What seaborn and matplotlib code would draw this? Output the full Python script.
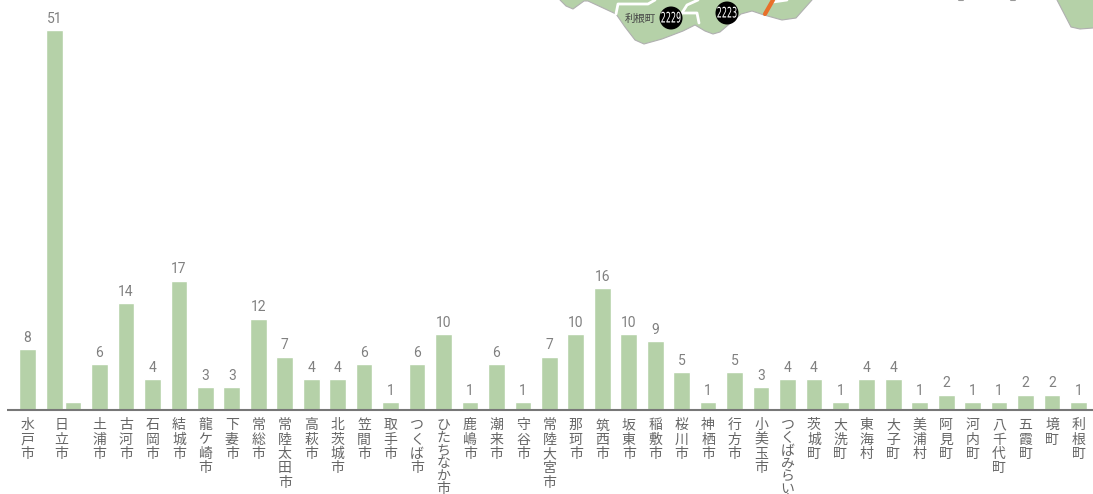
import matplotlib
matplotlib.use('Agg')
import matplotlib.pyplot as plt
import numpy as np
import seaborn as sns
from matplotlib.patches import Polygon, Circle
from matplotlib.patheffects import AbstractPathEffect
from matplotlib.transforms import Affine2D

cities = ['水戸市', '日立市', '', '土浦市', '古河市', '石岡市', '結城市', '龍ケ崎市', '下妻市', '常総市',
          '常陸太田市', '高萩市', '北茨城市', '笠間市', '取手市', 'つくば市', 'ひたちなか市', '鹿嶋市', '潮来市',
          '守谷市', '常陸大宮市', '那珂市', '筑西市', '坂東市', '稲敷市', '桜川市', '神栖市', '行方市', '小美玉市',
          'つくばみらい市', '茨城町', '大洗町', '東海村', '大子町', '美浦村', '阿見町', '河内町', '八千代町',
          '五霞町', '境町', '利根町']
counts = [8, 51, 1, 6, 14, 4, 17, 3, 3, 12, 7, 4, 4, 6, 1, 6, 10, 1, 6, 1, 7, 10, 16, 10, 9, 5, 1, 5, 3, 4, 4,
          1, 4, 4, 1, 2, 1, 1, 2, 2, 1]

# the tallest bar is cut off in the original
bar_cap = 50


class Squeeze(AbstractPathEffect):
    # narrow the text around its centre, no condensed font is installed
    def __init__(self, cx, sx):
        super().__init__()
        self.cx, self.sx = cx, sx

    def draw_path(self, renderer, gc, tpath, affine, rgbFace=None):
        squeeze = Affine2D().translate(-self.cx, 0).scale(self.sx, 1).translate(self.cx, 0)
        renderer.draw_path(gc, tpath, affine + squeeze, rgbFace)


sns.set_theme(style='white')
plt.rcParams['font.family'] = ['Noto Sans CJK JP', 'DejaVu Sans']

fig = plt.figure(figsize=(10.93, 4.94), dpi=100)
ax = fig.add_axes([0, 0, 1, 1])

# pixel layout of the bars: first two sit off the regular grid
bar_x = np.r_[28, 55, 100 + 26.46 * np.arange(-1, 38)]
label_x = bar_x.copy()
label_x[1] = 62

heights = np.minimum(counts, bar_cap)
sns.barplot(x=bar_x, y=heights, native_scale=True, color='#b5d1a8', saturation=1, width=0.9, ax=ax)
ax.set_xlim(0.5, 1093.5)
ax.set_ylim(-84.3 / 7.6, 409.7 / 7.6)

value_labels = [str(c) for c in counts]
value_labels[2] = ''
ax.bar_label(ax.containers[0], labels=value_labels, padding=3, fontsize=10, color='#808080',
             family=['Roboto', 'DejaVu Sans'])

ax.hlines(0, 7, 1094, color='#777777', lw=1.5, zorder=5)
ax.set_xticks(label_x, ['\n'.join(c) for c in cities])
# labels start just under the baseline, the axes runs down to the figure edge
ax.tick_params(axis='x', length=0, pad=-54.5, labelsize=10, labelcolor='#666666')
for t, c in zip(ax.get_xticklabels(), cities):
    # kana sits tighter than kanji in the original
    t.set_linespacing(0.88 if c in ('ひたちなか市', 'つくばみらい市') else 1.03)
ax.set_yticks([])
ax.set_xlabel('')
ax.set_ylabel('')
sns.despine(ax=ax, left=True, bottom=True, top=True, right=True)
ax.patch.set_alpha(0)

# map fragment along the top edge
mp = fig.add_axes([0, 0, 1, 1])
mp.set_xlim(0, 1093)
mp.set_ylim(494, 0)
mp.axis('off')
outline = [(560, 0), (566, 6), (573, 9), (584, 1), (588, 1), (616, 14), (625, 27), (635, 40), (644, 44), (662, 39),
           (683, 31), (695, 25), (705, 31), (713, 34), (720, 32), (741, 14), (752, 11), (764, 15), (782, 20),
           (796, 18), (812, 0)]
mp.add_patch(Polygon(outline, closed=True, fc='#b5d1a8', ec='none'))
mp.plot(*zip(*outline), color='#b0b0b0', lw=0.8)
right = [(1057, 0), (1071, 27), (1080, 29), (1093, 28), (1093, 0)]
mp.add_patch(Polygon(right, closed=True, fc='#b5d1a8', ec='none'))
mp.plot(*zip(*right[:4]), color='#b0b0b0', lw=0.8)
for line in [[(616, 14), (618, 4), (648, 4), (655, 0)], [(682, 13), (697, 13), (699, 23)],
             [(682, 13), (687, 5), (698, 0)], [(773, 2), (787, 0)]]:
    mp.plot(*zip(*line), color='white', lw=2)
mp.plot([765, 773], [14, 0], color='#e8702a', lw=3)
mp.plot([959, 963], [0, 0], color='#999999', lw=1.5)
mp.plot([1011, 1015], [0, 0], color='#999999', lw=1.5)
for cx, cy, txt in [(671, 18, '2229'), (727, 13, '2223')]:
    mp.add_patch(Circle((cx, cy), 11.5, fc='black', ec='none', zorder=6))
    t = mp.text(cx, cy, txt, color='white', fontsize=10.5, ha='center', va='center', zorder=7,
                family='DejaVu Sans')
    t.set_path_effects([Squeeze(cx, 0.55)])
mp.text(640, 19, '利根町', color='#444444', fontsize=7.5, ha='center', va='center')

plt.savefig('out.png', dpi=100)
